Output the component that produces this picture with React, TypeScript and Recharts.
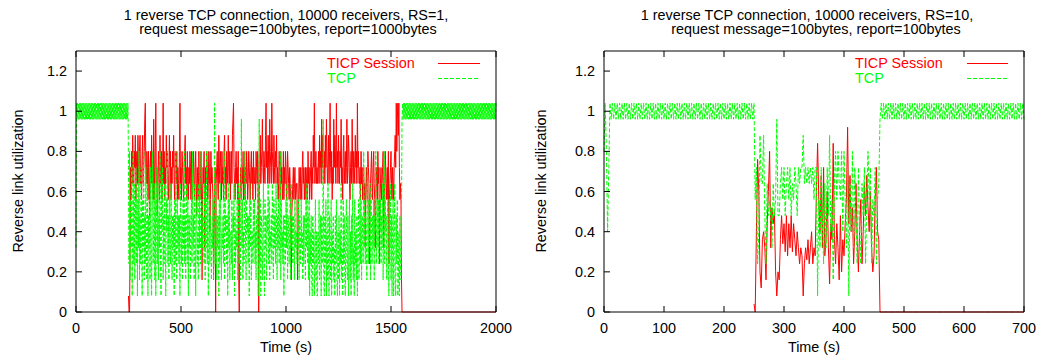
import React from 'react';
import { LineChart, Line, XAxis, YAxis } from 'recharts';

// ---------- Left panel (RS=1), sampled every 2.5 s from t=0 to t=2000 ----------
const LEFT_STEP = 2.5;
const LEFT_TICP_START = 250; // TICP series begins at t=250 s
const leftXTicks = [0, 500, 1000, 1500, 2000];

const tcpLeft = [
  0.32,
  1.04, 0.96, 1.04, 0.96, 1.04, 0.96, 1.04, 0.96, 1.04, 0.96,
  1.04, 0.96, 1.04, 0.96, 1.04, 0.96, 1.04, 0.96, 1.04, 0.96,
  1.04, 0.96, 1.04, 0.96, 1.04, 0.96, 1.04, 0.96, 1.04, 0.96,
  1.04, 0.96, 1.04, 0.96, 1.04, 0.96, 1.04, 0.96, 1.04, 0.96,
  1.04, 0.96, 1.04, 0.96, 1.04, 0.96, 1.04, 0.96, 1.04, 0.96,
  1.04, 0.96, 1.04, 0.96, 1.04, 0.96, 1.04, 0.96, 1.04, 0.96,
  1.04, 0.96, 1.04, 0.96, 1.04, 0.96, 1.04, 0.96, 1.04, 0.96,
  1.04, 0.96, 1.04, 0.96, 1.04, 0.96, 1.04, 0.96, 1.04, 0.96,
  1.04, 0.96, 1.04, 0.96, 1.04, 0.96, 1.04, 0.96, 1.04, 0.96,
  1.04, 0.96, 1.04, 0.96, 1.04, 0.96, 1.04, 0.96, 1.04,
  // t = 250 .. 347.5
  0.72, 0.24, 0.8, 0.16, 0.56, 0.32, 0.72, 0.08, 0.48, 0.8, 0.24, 0.64, 0.16, 0.4, 0.72, 0.24, 0.56, 0.08, 0.64, 0.32,
  0.8, 0.16, 0.48, 0.24, 0.72, 0.4, 0.08, 0.56, 0.32, 0.8, 0.16, 0.48, 0.24, 0.72, 0.4, 0.16, 0.64, 0.08, 0.48, 0.32,
  // t = 350 .. 447.5
  0.56, 0.16, 0.72, 0.32, 0.08, 0.48, 0.8, 0.24, 0.4, 0.64, 0.16, 0.56, 0.08, 0.4, 0.72, 0.24, 0.64, 0.16, 0.48, 0.32,
  0.8, 0.24, 0.08, 0.56, 0.4, 0.72, 0.16, 0.48, 0.24, 0.64, 0.32, 0.08, 0.56, 0.4, 0.8, 0.24, 0.48, 0.16, 0.72, 0.32,
  // t = 450 .. 547.5
  0.24, 0.64, 0.4, 0.16, 0.48, 0.32, 0.48, 0.08, 0.56, 0.24, 0.8, 0.4, 0.16, 0.56, 0.32, 0.48, 0.24, 0.48, 0.08, 0.64,
  0.4, 0.24, 0.48, 0.16, 0.56, 0.32, 0.8, 0.24, 0.48, 0.16, 0.64, 0.4, 0.24, 0.56, 0.08, 0.48, 0.32, 0.48, 0.16, 0.4,
  // t = 550 .. 647.5
  0.56, 0.24, 0.8, 0.32, 0.48, 0.16, 0.64, 0.4, 0.08, 0.56, 0.48, 0.24, 0.4, 0.16, 0.64, 0.32, 0.8, 0.24, 0.48, 0.16,
  0.56, 0.32, 0.48, 0.4, 0.24, 0.64, 0.16, 0.48, 0.32, 0.8, 0.24, 0.56, 0.08, 0.4, 0.64, 0.24, 0.48, 0.4, 0.16, 0.4,
  // t = 650 .. 747.5
  0.32, 0.56, 0.16, 0.48, 1.04, 0.24, 0.64, 0.4, 0.16, 0.48, 0.32, 0.48, 0.08, 0.56, 0.24, 0.64, 0.4, 0.16, 0.4, 0.32,
  0.48, 0.24, 0.8, 0.16, 0.56, 0.4, 0.48, 0.24, 0.48, 0.08, 0.64, 0.32, 0.56, 0.16, 0.4, 0.4, 0.24, 0.56, 0.16, 0.48,
  // t = 750 .. 847.5
  0.4, 0.64, 0.08, 0.48, 0.24, 0.4, 0.32, 0.56, 0.16, 0.64, 0.4, 0.24, 0.48, 0.16, 0.48, 0.96, 0.32, 0.56, 0.16, 0.4,
  0.24, 0.48, 0.8, 0.32, 0.16, 0.56, 0.4, 0.48, 0.24, 0.48, 0.08, 0.64, 0.32, 0.56, 0.16, 0.4, 0.4, 0.24, 0.56, 0.32,
  // t = 850 .. 947.5
  0.56, 0.24, 0.4, 0.16, 0.48, 0.32, 0.64, 0.08, 0.4, 0.96, 0.24, 0.56, 0.08, 0.48, 0.4, 0.16, 0.4, 0.64, 0.24, 0.08,
  0.56, 0.32, 0.48, 0.16, 0.48, 0.4, 0.64, 0.24, 0.56, 0.16, 0.4, 0.32, 0.48, 0.24, 0.64, 0.4, 0.16, 0.56, 0.32, 0.48,
  // t = 950 .. 1047.5
  0.24, 0.64, 0.4, 0.16, 0.48, 0.32, 0.56, 0.24, 0.48, 0.8, 0.16, 0.56, 0.32, 0.4, 0.24, 0.48, 0.08, 0.48, 0.4, 0.24,
  0.56, 0.32, 0.64, 0.16, 0.48, 0.4, 0.24, 0.4, 0.56, 0.16, 0.64, 0.32, 0.48, 0.24, 0.48, 0.4, 0.16, 0.56, 0.32, 0.4,
  // t = 1050 .. 1147.5
  0.4, 0.24, 0.64, 0.32, 0.56, 0.16, 0.48, 0.4, 0.24, 0.56, 0.32, 0.4, 0.16, 0.48, 0.24, 0.48, 0.4, 0.16, 0.56, 0.32,
  0.64, 0.24, 0.48, 0.16, 0.56, 0.08, 0.4, 0.24, 0.48, 0.16, 0.08, 0.48, 0.24, 0.4, 0.08, 0.32, 0.56, 0.16, 0.4, 0.08,
  // t = 1150 .. 1247.5
  0.08, 0.4, 0.24, 0.56, 0.16, 0.32, 0.48, 0.08, 0.48, 0.24, 0.4, 0.96, 0.16, 0.08, 0.48, 0.24, 0.56, 0.08, 0.4, 0.16,
  0.64, 0.24, 0.08, 0.48, 0.32, 0.16, 0.56, 0.08, 0.4, 0.24, 0.48, 0.16, 0.32, 0.08, 0.48, 0.24, 0.56, 0.16, 0.08, 0.4,
  // t = 1250 .. 1347.5
  0.16, 0.48, 0.08, 0.4, 0.24, 0.64, 0.16, 0.32, 0.08, 0.56, 0.24, 0.48, 0.16, 0.08, 0.4, 0.56, 0.24, 0.16, 0.48, 0.08,
  0.32, 0.56, 0.16, 0.4, 0.08, 0.48, 0.24, 0.64, 0.16, 0.32, 0.08, 0.56, 0.24, 0.4, 0.16, 0.48, 0.08, 0.32, 0.56, 0.16,
  // t = 1350 .. 1447.5
  0.32, 0.64, 0.24, 0.56, 0.16, 0.48, 0.4, 0.24, 0.8, 0.32, 0.56, 0.24, 0.48, 0.4, 0.16, 0.72, 0.48, 0.24, 0.56, 0.32,
  0.56, 0.16, 0.64, 0.4, 0.24, 0.48, 0.32, 0.56, 0.16, 0.48, 0.4, 0.8, 0.24, 0.48, 0.56, 0.32, 0.56, 0.24, 0.64, 0.4,
  // t = 1450 .. 1547.5
  0.56, 0.24, 0.48, 0.32, 0.64, 0.16, 0.48, 0.8, 0.24, 0.56, 0.4, 0.48, 0.16, 0.48, 0.56, 0.24, 0.08, 0.56, 0.32, 0.64,
  0.16, 0.48, 0.08, 0.4, 0.56, 0.08, 0.32, 0.64, 0.16, 0.08, 0.48, 0.24, 0.56, 0.08, 0.16, 0.4, 0.08, 0.48, 0.24, 0.16,
  // t = 1550
  0.48,
  // t = 1552.5 .. 2000
  0.96, 1.04, 0.96, 1.04, 0.96, 1.04, 0.96, 1.04, 0.96, 1.04,
  0.96, 1.04, 0.96, 1.04, 0.96, 1.04, 0.96, 1.04, 0.96, 1.04,
  0.96, 1.04, 0.96, 1.04, 0.96, 1.04, 0.96, 1.04, 0.96, 1.04,
  0.96, 1.04, 0.96, 1.04, 0.96, 1.04, 0.96, 1.04, 0.96, 1.04,
  0.96, 1.04, 0.96, 1.04, 0.96, 1.04, 0.96, 1.04, 0.96, 1.04,
  0.96, 1.04, 0.96, 1.04, 0.96, 1.04, 0.96, 1.04, 0.96, 1.04,
  0.96, 1.04, 0.96, 1.04, 0.96, 1.04, 0.96, 1.04, 0.96, 1.04,
  0.96, 1.04, 0.96, 1.04, 0.96, 1.04, 0.96, 1.04, 0.96, 1.04,
  0.96, 1.04, 0.96, 1.04, 0.96, 1.04, 0.96, 1.04, 0.96, 1.04,
  0.96, 1.04, 0.96, 1.04, 0.96, 1.04, 0.96, 1.04, 0.96, 1.04,
  0.96, 1.04, 0.96, 1.04, 0.96, 1.04, 0.96, 1.04, 0.96, 1.04,
  0.96, 1.04, 0.96, 1.04, 0.96, 1.04, 0.96, 1.04, 0.96, 1.04,
  0.96, 1.04, 0.96, 1.04, 0.96, 1.04, 0.96, 1.04, 0.96, 1.04,
  0.96, 1.04, 0.96, 1.04, 0.96, 1.04, 0.96, 1.04, 0.96, 1.04,
  0.96, 1.04, 0.96, 1.04, 0.96, 1.04, 0.96, 1.04, 0.96, 1.04,
  0.96, 1.04, 0.96, 1.04, 0.96, 1.04, 0.96, 1.04, 0.96, 1.04,
  0.96, 1.04, 0.96, 1.04, 0.96, 1.04, 0.96, 1.04, 0.96, 1.04,
  0.96, 1.04, 0.96, 1.04, 0.96, 1.04, 0.96, 1.04, 0.96, 1.04,
];

const ticpLeft = [
  // t = 250 .. 347.5
  0.08, 0, 0, 0.32, 0.72, 0.56, 0.8, 0.64, 0.88, 0.72, 0.64, 0.8, 0.72, 0.88, 0.56, 0.72, 0.8, 0.64, 0.88, 0.72,
  0.64, 0.8, 0.88, 0.64, 0.72, 0.56, 0.8, 0.88, 0.64, 0.72, 0.8, 0.96, 1.04, 0.72, 0.64, 0.8, 0.72, 0.56, 0.8, 0.64,
  // t = 350 .. 447.5
  0.48, 0.72, 0.8, 0.64, 0.88, 0.72, 0.64, 0.56, 0.96, 0.72, 0.56, 0.8, 1.04, 0.64, 0.72, 0.48, 0.64, 0.8, 0.72, 0.56,
  0.88, 0.64, 0.72, 0.8, 0.56, 0.72, 1.04, 0.64, 0.8, 0.56, 0.72, 0.64, 0.88, 0.72, 0.8, 0.64, 0.56, 0.72, 0.88, 0.64,
  // t = 450 .. 547.5
  0.8, 0.56, 0.72, 0.64, 0.8, 0.72, 0.88, 0.64, 0.56, 0.8, 0.72, 0.64, 0.8, 0.56, 0.72, 0.64, 0.56, 0.8, 1.04, 0.64,
  0.72, 0.56, 0.8, 0.72, 0.64, 0.56, 0.72, 0.8, 0.88, 0.64, 0.72, 0.56, 0.8, 0.64, 0.56, 0.72, 0.64, 0.8, 0.72, 0.56,
  // t = 550 .. 647.5
  0.8, 0.64, 0.56, 0.72, 0.8, 0.64, 0.56, 0.72, 0.8, 0.64, 0.48, 0.72, 0.64, 0.56, 0.8, 0.72, 0.56, 0.64, 0.8, 0.56,
  0.16, 0.56, 0.72, 0.64, 0.8, 0.32, 0.56, 0.72, 0.64, 0.8, 0.72, 0.56, 0.64, 0.8, 0.72, 0.4, 0.56, 0.8, 0.64, 0.72,
  // t = 650 .. 747.5
  0.64, 0.56, 0.16, 0.4, 0.56, 0.72, 0, 0.64, 0.72, 0.8, 0.64, 0.56, 0.88, 0.72, 0.64, 0.8, 0.72, 0.56, 0.8, 0.64,
  0.72, 0.56, 0.8, 0.88, 0.64, 0.72, 0.56, 0.8, 0.72, 0.64, 0.88, 0.72, 0.64, 0.8, 0.56, 0.72, 0.8, 0.64, 0.88, 0.96,
  // t = 750 .. 847.5
  1.04, 0.72, 0.64, 0.56, 0.72, 0.8, 0.64, 0.72, 0.56, 0.8, 0.16, 0, 0.56, 0.64, 0.72, 0.56, 0.8, 0.64, 0.72, 0.56,
  0.8, 0.64, 0.56, 0.72, 0.64, 0.8, 0.72, 0.56, 0.64, 0.8, 0.72, 0.64, 0.56, 0.72, 0.8, 0.64, 0.72, 0.56, 0.8, 0.64,
  // t = 850 .. 947.5
  0.64, 0.72, 0.56, 0.8, 0.72, 0.64, 0.8, 0.72, 0, 0.48, 0.72, 0.88, 0.64, 0.72, 0.8, 0.96, 0.72, 0.64, 0.8, 0.72,
  0.64, 0.88, 1.04, 0.72, 0.8, 0.64, 0.88, 0.72, 0.64, 0.96, 0.8, 0.72, 0.64, 1.04, 0.8, 0.72, 0.64, 0.88, 0.72, 0.64,
  // t = 950 .. 1047.5
  0.8, 0.72, 0.88, 0.64, 0.72, 0.56, 0.64, 0.8, 0.72, 0.56, 0.8, 0.64, 0.72, 0.56, 0.64, 0.8, 0.56, 0.72, 0.64, 0.8,
  0.72, 0.56, 0.64, 0.8, 0.72, 0.64, 0.56, 0.72, 0.64, 0.56, 0.16, 0.48, 0.56, 0.64, 0.72, 0.56, 0.64, 0.72, 0.56, 0.64,
  // t = 1050 .. 1147.5
  0.64, 0.56, 0.16, 0.4, 0.56, 0.72, 0.64, 0.56, 0.72, 0.64, 0.56, 0.72, 0.8, 0.64, 0.72, 0.56, 0.64, 0.72, 0.56, 0.64,
  0.72, 0.56, 0.8, 0.64, 0.72, 0.56, 0.64, 0.72, 0.8, 0.56, 0.72, 0.64, 0.88, 0.72, 1.04, 0.64, 0.72, 0.8, 0.64, 0.72,
  // t = 1150 .. 1247.5
  0.64, 0.72, 0.8, 0.64, 0.88, 0.72, 0.8, 0.64, 0.96, 0.72, 0.88, 0.64, 0.72, 0.8, 0.64, 0.88, 0.72, 0.96, 0.8, 0.64,
  0.72, 0.88, 0.64, 0.8, 1.04, 0.72, 0.64, 0.8, 0.56, 0.72, 0.64, 0.96, 0.72, 0.88, 0.8, 0.64, 1.04, 0.72, 0.8, 0.64,
  // t = 1250 .. 1347.5
  0.88, 0.72, 0.64, 0.8, 0.72, 0.96, 0.64, 0.72, 0.56, 0.8, 0.88, 0.64, 0.72, 0.8, 0.64, 0.72, 0.96, 0.64, 0.72, 0.88,
  0.8, 0.64, 0.56, 0.72, 0.8, 0.64, 0.96, 0.72, 0.64, 0.8, 0.72, 0.64, 0.88, 0.72, 0.8, 0.64, 1.04, 0.72, 0.8, 0.64,
  // t = 1350 .. 1447.5
  0.64, 0.72, 0.56, 0.8, 0.64, 0.72, 0.56, 0.64, 0.72, 0.56, 0.64, 0.32, 0.56, 0.72, 0.64, 0.56, 0.8, 0.72, 0.64, 0.24,
  0.56, 0.64, 0.72, 0.8, 0.64, 0.56, 0.72, 0.8, 0.64, 0.56, 0.32, 0.56, 0.72, 0.64, 0.56, 0.8, 0.64, 0.72, 0.24, 0.56,
  // t = 1450 .. 1547.5
  0.64, 0.72, 0.56, 0.64, 0.72, 0.8, 0.32, 0.56, 0.64, 0.8, 0.72, 0.56, 0.64, 0.72, 0.56, 0.8, 0.24, 0.56, 0.64, 0.72,
  0.8, 0.64, 0.56, 0.72, 0.64, 0.56, 0.72, 0.8, 0.88, 0.72, 1.04, 0.8, 0.96, 1.04, 0.88, 1.04, 0.72, 0.56, 0.64, 0.56,
  // t = 1550
  0.16,
  // t = 1552.5 .. 2000
  0, 0, 0, 0, 0, 0, 0, 0, 0, 0,
  0, 0, 0, 0, 0, 0, 0, 0, 0, 0,
  0, 0, 0, 0, 0, 0, 0, 0, 0, 0,
  0, 0, 0, 0, 0, 0, 0, 0, 0, 0,
  0, 0, 0, 0, 0, 0, 0, 0, 0, 0,
  0, 0, 0, 0, 0, 0, 0, 0, 0, 0,
  0, 0, 0, 0, 0, 0, 0, 0, 0, 0,
  0, 0, 0, 0, 0, 0, 0, 0, 0, 0,
  0, 0, 0, 0, 0, 0, 0, 0, 0, 0,
  0, 0, 0, 0, 0, 0, 0, 0, 0, 0,
  0, 0, 0, 0, 0, 0, 0, 0, 0, 0,
  0, 0, 0, 0, 0, 0, 0, 0, 0, 0,
  0, 0, 0, 0, 0, 0, 0, 0, 0, 0,
  0, 0, 0, 0, 0, 0, 0, 0, 0, 0,
  0, 0, 0, 0, 0, 0, 0, 0, 0, 0,
  0, 0, 0, 0, 0, 0, 0, 0, 0, 0,
  0, 0, 0, 0, 0, 0, 0, 0, 0, 0,
  0, 0, 0, 0, 0, 0, 0, 0, 0, 0,
];

// ---------- Right panel (RS=10), sampled every 2 s from t=0 to t=700 ----------
const RIGHT_STEP = 2;
const RIGHT_TICP_START = 250;
const rightXTicks = [0, 100, 200, 300, 400, 500, 600, 700];

const tcpRight = [
  0.8, 1.04, 0.8, 0.4, 0.72,
  1.04, 0.96, 1.04, 0.96, 1.04, 0.96, 1.04, 0.96, 1.04, 0.96,
  1.04, 0.96, 1.04, 0.96, 1.04, 0.96, 1.04, 0.96, 1.04, 0.96,
  1.04, 0.96, 1.04, 0.96, 1.04, 0.96, 1.04, 0.96, 1.04, 0.96,
  1.04, 0.96, 1.04, 0.96, 1.04, 0.96, 1.04, 0.96, 1.04, 0.96,
  1.04, 0.96, 1.04, 0.96, 1.04, 0.96, 1.04, 0.96, 1.04, 0.96,
  1.04, 0.96, 1.04, 0.96, 1.04, 0.96, 1.04, 0.96, 1.04, 0.96,
  1.04, 0.96, 1.04, 0.96, 1.04, 0.96, 1.04, 0.96, 1.04, 0.96,
  1.04, 0.96, 1.04, 0.96, 1.04, 0.96, 1.04, 0.96, 1.04, 0.96,
  1.04, 0.96, 1.04, 0.96, 1.04, 0.96, 1.04, 0.96, 1.04, 0.96,
  1.04, 0.96, 1.04, 0.96, 1.04, 0.96, 1.04, 0.96, 1.04, 0.96,
  1.04, 0.96, 1.04, 0.96, 1.04, 0.96, 1.04, 0.96, 1.04, 0.96,
  1.04, 0.96, 1.04, 0.96, 1.04, 0.96, 1.04, 0.96, 1.04, 0.96,
  1.04,
  0.56, 0.72, 0.24, 0.4, 0.88, 0.64, 0.64, 0.88, 0.48, 0.24,
  0.64, 0.48, 0.56, 0.48, 0.32, 0.64, 0.48, 0.56, 0.96, 0.48,
  0.48, 0.64, 0.72, 0.56, 0.72, 0.48, 0.64, 0.72, 0.56, 0.72,
  0.48, 0.64, 0.56, 0.72, 0.64, 0.48, 0.72, 0.64, 0.72, 0.72,
  0.88, 0.64, 0.72, 0.64, 0.72, 0.64, 0.72, 0.64, 0.72, 0.56,
  0.72, 0.72, 0.08, 0.56, 0.32, 0.72, 0.48, 0.24, 0.64, 0.32,
  0.72, 0.48, 0.88, 0.4, 0.56, 0.16, 0.64, 0.8, 0.56, 0.8,
  0.64, 0.56, 0.8, 0.4, 0.8, 0.56, 0.32, 0.72, 0.08, 0.64,
  0.4, 0.8, 0.32, 0.72, 0.48, 0.24, 0.72, 0.4, 0.24, 0.64,
  0.48, 0.72, 0.24, 0.56, 0.8, 0.56, 0.72, 0.24, 0.56, 0.48,
  0.72, 0.24, 0.56, 0.64,
  0.96, 1.04, 0.96, 1.04, 0.96, 1.04, 0.96, 1.04, 0.96, 1.04,
  0.96, 1.04, 0.96, 1.04, 0.96, 1.04, 0.96, 1.04, 0.96, 1.04,
  0.96, 1.04, 0.96, 1.04, 0.96, 1.04, 0.96, 1.04, 0.96, 1.04,
  0.96, 1.04, 0.96, 1.04, 0.96, 1.04, 0.96, 1.04, 0.96, 1.04,
  0.96, 1.04, 0.96, 1.04, 0.96, 1.04, 0.96, 1.04, 0.96, 1.04,
  0.96, 1.04, 0.96, 1.04, 0.96, 1.04, 0.96, 1.04, 0.96, 1.04,
  0.96, 1.04, 0.96, 1.04, 0.96, 1.04, 0.96, 1.04, 0.96, 1.04,
  0.96, 1.04, 0.96, 1.04, 0.96, 1.04, 0.96, 1.04, 0.96, 1.04,
  0.96, 1.04, 0.96, 1.04, 0.96, 1.04, 0.96, 1.04, 0.96, 1.04,
  0.96, 1.04, 0.96, 1.04, 0.96, 1.04, 0.96, 1.04, 0.96, 1.04,
  0.96, 1.04, 0.96, 1.04, 0.96, 1.04, 0.96, 1.04, 0.96, 1.04,
  0.96, 1.04, 0.96, 1.04, 0.96, 1.04, 0.96, 1.04, 0.96, 1.04,
  0.96,
];

const ticpRight = [
  0.04, 0, 0.4, 0.76, 0.6, 0.2, 0.12, 0.36, 0.4, 0.32,
  0.16, 0.44, 0.6, 0.8, 0.32, 0.52, 0.44, 0.5, 0.2, 0.08,
  0.2, 0.16, 0.36, 0.48, 0.34, 0.44, 0.3, 0.48, 0.28, 0.44,
  0.32, 0.48, 0.3, 0.44, 0.36, 0.28, 0.4, 0.32, 0.24, 0.32,
  0.28, 0.08, 0.24, 0.32, 0.26, 0.36, 0.24, 0.32, 0.4, 0.24,
  0.32, 0.28, 0.6, 0.84, 0.56, 0.4, 0.68, 0.32, 0.72, 0.28,
  0.36, 0.6, 0.32, 0.14, 0.44, 0.36, 0.84, 0.36, 0.24, 0.44,
  0.32, 0.16, 0.48, 0.2, 0.36, 0.28, 0.44, 0.56, 0.92, 0.44,
  0.68, 0.4, 0.52, 0.24, 0.4, 0.64, 0.36, 0.2, 0.4, 0.56,
  0.24, 0.4, 0.64, 0.48, 0.68, 0.52, 0.4, 0.6, 0.32, 0.2,
  0.28, 0.56, 0.72, 0.4, 0.36,
  0, 0, 0, 0, 0, 0, 0, 0, 0, 0,
  0, 0, 0, 0, 0, 0, 0, 0, 0, 0,
  0, 0, 0, 0, 0, 0, 0, 0, 0, 0,
  0, 0, 0, 0, 0, 0, 0, 0, 0, 0,
  0, 0, 0, 0, 0, 0, 0, 0, 0, 0,
  0, 0, 0, 0, 0, 0, 0, 0, 0, 0,
  0, 0, 0, 0, 0, 0, 0, 0, 0, 0,
  0, 0, 0, 0, 0, 0, 0, 0, 0, 0,
  0, 0, 0, 0, 0, 0, 0, 0, 0, 0,
  0, 0, 0, 0, 0, 0, 0, 0, 0, 0,
  0, 0, 0, 0, 0, 0, 0, 0, 0, 0,
  0, 0, 0, 0, 0, 0, 0, 0, 0, 0,
  0,
];

const yTicks = [0, 0.2, 0.4, 0.6, 0.8, 1, 1.2];

const buildData = (tcp: number[], ticp: number[], step: number, ticpStart: number) => {
  const offset = Math.round(ticpStart / step);
  return tcp.map((v, i) => ({
    t: i * step,
    tcp: v,
    ticp: i >= offset && i - offset < ticp.length ? ticp[i - offset] : null,
  }));
};

const leftData = buildData(tcpLeft, ticpLeft, LEFT_STEP, LEFT_TICP_START);
const rightData = buildData(tcpRight, ticpRight, RIGHT_STEP, RIGHT_TICP_START);

const FONT = '"Liberation Sans", Arial, Helvetica, sans-serif';
const FS = 14.4;
const RED = '#ff0000';
const GREEN = '#00ff00';

// axis reserved sizes
const BOTTOM_H = 30;
const TOP_H = 10;
const LEFT_W = 40;
const RIGHT_W = 10;

const BottomTick = (p: any) => (
  <g>
    <line x1={p.x} y1={p.y} x2={p.x} y2={p.y - 6} stroke="#000" />
    <text x={p.x} y={p.y + 21} textAnchor="middle" fontSize={FS} fontFamily={FONT} fill="#000">
      {p.payload.value}
    </text>
  </g>
);
const TopTick = (p: any) => (
  <line x1={p.x} y1={p.y} x2={p.x} y2={p.y + 6} stroke="#000" />
);
const LeftTick = (p: any) => (
  <g>
    <line x1={p.x} y1={p.y} x2={p.x + 6} y2={p.y} stroke="#000" />
    <text x={p.x - 9} y={p.y + 5} textAnchor="end" fontSize={FS} fontFamily={FONT} fill="#000">
      {p.payload.value}
    </text>
  </g>
);
const RightTick = (p: any) => (
  <line x1={p.x} y1={p.y} x2={p.x - 6} y2={p.y} stroke="#000" />
);

const Panel = ({ data, xMax, xTicks, width, plot }: any) => (
  <LineChart
    width={width}
    height={360}
    data={data}
    margin={{
      top: plot.top - TOP_H,
      bottom: 360 - plot.bottom - BOTTOM_H,
      left: plot.left - LEFT_W,
      right: width - plot.right - RIGHT_W,
    }}
  >
    <XAxis
      dataKey="t"
      type="number"
      domain={[0, xMax]}
      ticks={xTicks}
      interval={0}
      height={BOTTOM_H}
      tickSize={0}
      tickMargin={0}
      tickLine={false}
      axisLine={{ stroke: '#000' }}
      tick={<BottomTick />}
    />
    <XAxis
      xAxisId="top"
      orientation="top"
      dataKey="t"
      type="number"
      domain={[0, xMax]}
      ticks={xTicks}
      interval={0}
      height={TOP_H}
      tickSize={0}
      tickMargin={0}
      tickLine={false}
      axisLine={{ stroke: '#000' }}
      tick={<TopTick />}
    />
    <YAxis
      type="number"
      domain={[0, 1.3]}
      ticks={yTicks}
      interval={0}
      width={LEFT_W}
      tickSize={0}
      tickMargin={0}
      tickLine={false}
      axisLine={{ stroke: '#000' }}
      tick={<LeftTick />}
    />
    <YAxis
      yAxisId="right"
      orientation="right"
      type="number"
      domain={[0, 1.3]}
      ticks={yTicks}
      interval={0}
      width={RIGHT_W}
      tickSize={0}
      tickMargin={0}
      tickLine={false}
      axisLine={{ stroke: '#000' }}
      tick={<RightTick />}
    />
    <Line
      type="linear"
      dataKey="ticp"
      stroke={RED}
      strokeWidth={1}
      dot={false}
      activeDot={false}
      connectNulls={false}
      isAnimationActive={false}
    />
    <Line
      type="linear"
      dataKey="tcp"
      stroke={GREEN}
      strokeWidth={1}
      strokeDasharray="4 2"
      dot={false}
      activeDot={false}
      isAnimationActive={false}
    />
  </LineChart>
);

const leftTitle = ['1 reverse TCP connection, 10000 receivers, RS=1,', 'request message=100bytes, report=1000bytes'];
const rightTitle = ['1 reverse TCP connection, 10000 receivers, RS=10,', 'request message=100bytes, report=100bytes'];
const yLabel = 'Reverse link utilization';
const xLabel = 'Time (s)';
const seriesNames = ['TICP Session', 'TCP'];

export default function App() {
  return (
    <div style={{ position: 'absolute', left: 0, top: 0, width: 1041, height: 360, background: '#fff', overflow: 'hidden' }}>
      <div style={{ position: 'absolute', left: 0, top: 0 }}>
        <Panel data={leftData} xMax={2000} xTicks={leftXTicks} width={520}
          plot={{ top: 51, bottom: 312, left: 76, right: 496 }} />
      </div>
      <div style={{ position: 'absolute', left: 520, top: 0 }}>
        <Panel data={rightData} xMax={700} xTicks={rightXTicks} width={521}
          plot={{ top: 51, bottom: 312, left: 84, right: 504 }} />
      </div>
      <svg width={1041} height={360} style={{ position: 'absolute', left: 0, top: 0, pointerEvents: 'none' }}
        fontFamily={FONT} fontSize={FS}>
        <text x={286} y={20} textAnchor="middle" fill="#000">{leftTitle[0]}</text>
        <text x={288} y={34} textAnchor="middle" fill="#000">{leftTitle[1]}</text>
        <text x={807} y={20} textAnchor="middle" fill="#000">{rightTitle[0]}</text>
        <text x={816} y={34} textAnchor="middle" fill="#000">{rightTitle[1]}</text>

        <text transform="translate(23,181) rotate(-90)" textAnchor="middle" fill="#000">{yLabel}</text>
        <text transform="translate(546,181) rotate(-90)" textAnchor="middle" fill="#000">{yLabel}</text>

        <text x={286} y={352} textAnchor="middle" fill="#000">{xLabel}</text>
        <text x={814} y={352} textAnchor="middle" fill="#000">{xLabel}</text>

        <text x={327} y={68} fill={RED}>{seriesNames[0]}</text>
        <line x1={438} y1={63.5} x2={480} y2={63.5} stroke={RED} />
        <text x={327} y={83} fill={GREEN}>{seriesNames[1]}</text>
        <line x1={438} y1={78.5} x2={480} y2={78.5} stroke={GREEN} strokeDasharray="4 2" />

        <text x={855} y={68} fill={RED}>{seriesNames[0]}</text>
        <line x1={967} y1={63.5} x2={1008} y2={63.5} stroke={RED} />
        <text x={855} y={83} fill={GREEN}>{seriesNames[1]}</text>
        <line x1={967} y1={78.5} x2={1008} y2={78.5} stroke={GREEN} strokeDasharray="4 2" />
      </svg>
    </div>
  );
}
